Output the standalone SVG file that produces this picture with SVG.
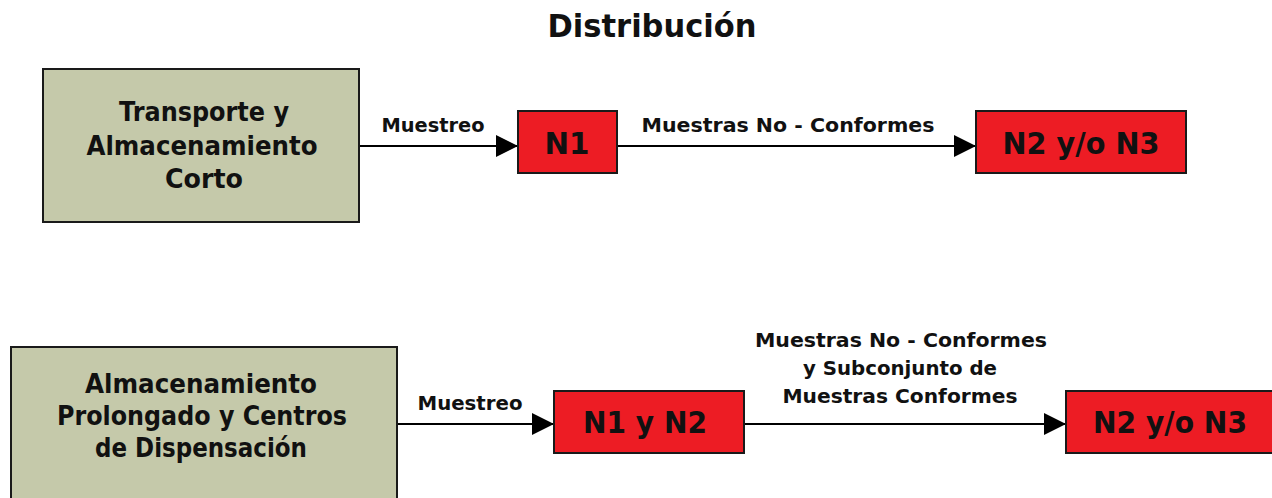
<svg xmlns="http://www.w3.org/2000/svg" width="1272" height="498" viewBox="0 0 1272 498">
<style>
text{font-family:"DejaVu Sans","Liberation Sans",sans-serif;font-weight:bold;fill:#111;text-anchor:middle}
.grey{fill:#c5c9aa;stroke:#1a1a1a;stroke-width:2}
.red{fill:#ed1c24;stroke:#1a1a1a;stroke-width:2}
.box{font-size:26px}
.rt{font-size:29.5px}
.lbl{font-size:19.5px}
.ln{stroke:#000;stroke-width:2;fill:none;marker-end:url(#ah)}
</style>
<defs>
<marker id="ah" viewBox="0 0 22 22" refX="22" refY="11" markerWidth="22" markerHeight="22" markerUnits="userSpaceOnUse" orient="auto">
<path d="M0,0 L22,11 L0,22 Z" fill="#000"/>
</marker>
</defs>
<rect width="1272" height="498" fill="#fff"/>
<text x="652" y="37" style="font-size:32px" textLength="209" lengthAdjust="spacingAndGlyphs">Distribución</text>
<g id="connectors">
<line class="ln" x1="359" y1="146" x2="518" y2="146"/>
<line class="ln" x1="617" y1="146" x2="976" y2="146"/>
<line class="ln" x1="397" y1="424" x2="554" y2="424"/>
<line class="ln" x1="744" y1="424" x2="1066" y2="424"/>
<text class="lbl" x="433" y="132" textLength="103" lengthAdjust="spacingAndGlyphs">Muestreo</text>
<text class="lbl" x="788" y="132" textLength="293" lengthAdjust="spacingAndGlyphs">Muestras No - Conformes</text>
<text class="lbl" x="470" y="410" textLength="105" lengthAdjust="spacingAndGlyphs">Muestreo</text>
<text class="lbl" x="901" y="347" textLength="292" lengthAdjust="spacingAndGlyphs">Muestras No - Conformes</text>
<text class="lbl" x="900" y="375" textLength="194" lengthAdjust="spacingAndGlyphs">y Subconjunto de</text>
<text class="lbl" x="900" y="403" textLength="235" lengthAdjust="spacingAndGlyphs">Muestras Conformes</text>
</g>
<g id="transporte">
<rect class="grey" x="43" y="69" width="316" height="153"/>
<text class="box" x="204" y="121" textLength="170" lengthAdjust="spacingAndGlyphs">Transporte y</text>
<text class="box" x="202" y="155" textLength="231" lengthAdjust="spacingAndGlyphs">Almacenamiento</text>
<text class="box" x="204" y="188" textLength="78" lengthAdjust="spacingAndGlyphs">Corto</text>
</g>
<g id="n1">
<rect class="red" x="518" y="111" width="99" height="62"/>
<text class="rt" x="567" y="154" textLength="45" lengthAdjust="spacingAndGlyphs">N1</text>
</g>
<g id="n2n3-top">
<rect class="red" x="976" y="111" width="210" height="62"/>
<text class="rt" x="1081" y="154" textLength="157" lengthAdjust="spacingAndGlyphs">N2 y/o N3</text>
</g>
<g id="almacenamiento">
<rect class="grey" x="11" y="347" width="386" height="160"/>
<text class="box" x="201" y="393" textLength="232" lengthAdjust="spacingAndGlyphs">Almacenamiento</text>
<text class="box" x="202" y="425" textLength="290" lengthAdjust="spacingAndGlyphs">Prolongado y Centros</text>
<text class="box" x="201" y="457" textLength="212" lengthAdjust="spacingAndGlyphs">de Dispensación</text>
</g>
<g id="n1n2">
<rect class="red" x="554" y="391" width="190" height="62"/>
<text class="rt" x="645" y="433" textLength="124" lengthAdjust="spacingAndGlyphs">N1 y N2</text>
</g>
<g id="n2n3-bottom">
<rect class="red" x="1066" y="391" width="215" height="62"/>
<text class="rt" x="1170" y="433" textLength="154" lengthAdjust="spacingAndGlyphs">N2 y/o N3</text>
</g>
</svg>
